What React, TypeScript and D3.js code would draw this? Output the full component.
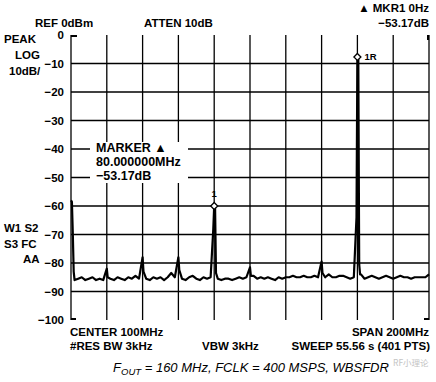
import React from "react";
import * as d3 from "d3";

const W = 436;
const H = 382;

// Frequency axis (MHz) and level axis (dBm)
const freqDomain = [0, 200];
const levelDomain = [-100, 0];
const freqTicks = [0, 20, 40, 60, 80, 100, 120, 140, 160, 180, 200];
const levelTicks = [0, -10, -20, -30, -40, -50, -60, -70, -80, -90, -100];
const levelTickLabels = ["0", "\u221210", "\u221220", "\u221230", "\u221240", "\u221250", "\u221260", "\u221270", "\u221280", "\u221290", "\u2212100"];

// Noise floor, sampled every 2 MHz (0..200)
const floorFreqs = d3.range(0, 201, 2);
const floorLevels = [
  -86, -86, -85.5, -85, -86, -85.5, -85, -86, -85.5, -86,
  -85, -85.5, -86, -85, -85.5, -86, -85, -85.5, -84.5, -85.5,
  -85, -85.5, -86, -85, -85.5, -85, -86, -85, -83.5, -85,
  -85, -85.5, -86, -85, -84.5, -85.5, -86, -85, -85.5, -85,
  -85.5, -85.5, -86, -85.5, -85.5, -86, -85.5, -85, -85.5, -85,
  -85, -84.5, -85.5, -85, -85.5, -85, -85.5, -86, -85, -85.5,
  -85, -85, -84.5, -85, -85, -84.5, -85, -85, -84.5, -85,
  -84.5, -85, -84, -85, -85, -84.5, -84.5, -85, -85.5, -85,
  -85, -84, -85.5, -85, -84.5, -85, -85.5, -85, -84.5, -85,
  -85.5, -85, -84.5, -85, -85, -85.5, -85, -85, -85, -85,
  -84,
];

// Spurs / carrier points inserted into the trace (MHz, dBm)
const spurFreqs = [0, 0.5, 1, 1.5, 20, 20.5, 40, 40.5, 60, 60.5, 79.5, 80, 80.5, 81, 100, 100.5, 140, 140.5, 159.5, 160, 160.5, 161, 161.5];
const spurLevels = [-58, -58.5, -69.5, -83, -82, -85, -78, -83, -78, -82.5, -68, -60, -61, -83.5, -81.5, -84.5, -79.5, -83.5, -64, -7.7, -8.2, -80.5, -84];

// Markers
const markerFreqs = [80, 160];
const markerLevels = [-60, -7.7];
const markerLabels = ["1", "1R"];

const FONT = "'Liberation Sans', Arial, Helvetica, sans-serif";

export default function App() {
  const left = 71, right = 429, top = 35, bottom = 320;
  const x = d3.scaleLinear().domain(freqDomain).range([left, right]);
  const y = d3.scaleLinear().domain(levelDomain).range([bottom, top]);

  const pts: [number, number][] = [];
  const spurSet = new Set(spurFreqs.map((f) => Math.round(f * 2)));
  floorFreqs.forEach((f, i) => {
    if (!spurSet.has(Math.round(f * 2))) pts.push([f, floorLevels[i]]);
  });
  spurFreqs.forEach((f, i) => pts.push([f, spurLevels[i]]));
  pts.sort((a, b) => a[0] - b[0]);

  const line = d3
    .line<[number, number]>()
    .x((d) => x(d[0]))
    .y((d) => y(d[1]));

  const bold = { fontFamily: FONT, fontWeight: 700, fontSize: 11.5, fill: "#000" } as const;

  const gridStroke = "#000";
  const gw = 1.3;

  return (
    <svg
      width={W}
      height={H}
      viewBox={`0 0 ${W} ${H}`}
      style={{ position: "absolute", left: 0, top: 0, background: "#fff" }}
    >
      <rect x={0} y={0} width={W} height={H} fill="#fff" />
      {/* vertical grid */}
      {freqTicks.map((f) => (
        <line key={"v" + f} x1={x(f)} x2={x(f)} y1={y(0)} y2={y(-100)} stroke={gridStroke} strokeWidth={gw} />
      ))}
      {/* horizontal grid (no top/bottom rule) */}
      {levelTicks
        .filter((l) => l !== 0 && l !== -100)
        .map((l) => (
          <line key={"h" + l} x1={x(0)} x2={x(200)} y1={y(l)} y2={y(l)} stroke={gridStroke} strokeWidth={gw} />
        ))}
      {/* corner marks */}
      <line x1={x(0)} x2={x(0) + 6} y1={y(0) + 1} y2={y(0) + 1} stroke="#000" strokeWidth={2} />
      <line x1={x(200) - 1} x2={x(200) - 1} y1={y(0)} y2={y(0) + 5} stroke="#000" strokeWidth={2} />
      <line x1={x(0)} x2={x(0) + 5} y1={y(-100) - 1} y2={y(-100) - 1} stroke="#000" strokeWidth={2} />
      <line x1={x(200) - 5} x2={x(200)} y1={y(-100) - 1} y2={y(-100) - 1} stroke="#000" strokeWidth={2} />

      {/* level tick labels */}
      {levelTicks.map((l, i) => (
        <text key={"yl" + l} x={64} y={y(l) + 4} textAnchor="end" {...bold}>
          {levelTickLabels[i]}
        </text>
      ))}

      {/* marker readout box */}
      <rect x={90} y={142} width={98} height={41} fill="#fff" />
      <text x={96} y={152} {...bold} fontSize={12.5}>MARKER {"\u25B2"}</text>
      <text x={96} y={166} {...bold} fontSize={12.5}>80.000000MHz</text>
      <text x={96} y={180} {...bold} fontSize={12.5}>{"\u2212"}53.17dB</text>

      {/* trace */}
      <path d={line(pts) || ""} fill="none" stroke="#000" strokeWidth={2.2} strokeLinejoin="round" />

      {/* markers */}
      {markerFreqs.map((f, i) => {
        const cx = x(f), cy = y(markerLevels[i]);
        return (
          <g key={"m" + i}>
            <path
              d={`M${cx},${cy - 3.5}L${cx + 3.5},${cy}L${cx},${cy + 3.5}L${cx - 3.5},${cy}Z`}
              fill="#fff"
              stroke="#000"
              strokeWidth={1.3}
            />
            {i === 0 ? (
              <text x={cx} y={cy - 9} textAnchor="middle" {...bold} fontSize={9.5}>{markerLabels[i]}</text>
            ) : (
              <text x={cx + 7} y={cy + 3.5} {...bold} fontSize={9.5}>{markerLabels[i]}</text>
            )}
          </g>
        );
      })}

      {/* header texts */}
      <text x={35} y={27} {...bold}>REF 0dBm</text>
      <text x={144} y={27} {...bold}>ATTEN 10dB</text>
      <text x={429} y={12} textAnchor="end" {...bold}>{"\u25B2"} MKR1 0Hz</text>
      <text x={429} y={27} textAnchor="end" {...bold}>{"\u2212"}53.17dB</text>
      <text x={4} y={43} {...bold}>PEAK</text>
      <text x={15} y={59} {...bold}>LOG</text>
      <text x={9} y={75} {...bold}>10dB/</text>
      <text x={4} y={232} {...bold}>W1 S2</text>
      <text x={4} y={248} {...bold}>S3 FC</text>
      <text x={23} y={263} {...bold}>AA</text>

      {/* footer texts */}
      <text x={70} y={336} {...bold}>CENTER 100MHz</text>
      <text x={429} y={336} textAnchor="end" {...bold}>SPAN 200MHz</text>
      <text x={70} y={350} {...bold}>#RES BW 3kHz</text>
      <text x={202} y={350} {...bold}>VBW 3kHz</text>
      <text x={430} y={350} textAnchor="end" {...bold}>SWEEP 55.56 s (401 PTS)</text>

      {/* caption */}
      <text x={251} y={372} textAnchor="middle" fontFamily={FONT} fontStyle="italic" fontSize={13} fill="#000">
        F<tspan fontSize={9.5} dy={3}>OUT</tspan>
        <tspan dy={-3}> = 160 MHz, FCLK = 400 MSPS, WBSFDR</tspan>
      </text>

      {/* watermark */}
      <text x={393} y={366} fontFamily="'Noto Sans CJK SC', sans-serif" fontSize={8.5} fill="#c4c4c4">RF小理论</text>
    </svg>
  );
}
